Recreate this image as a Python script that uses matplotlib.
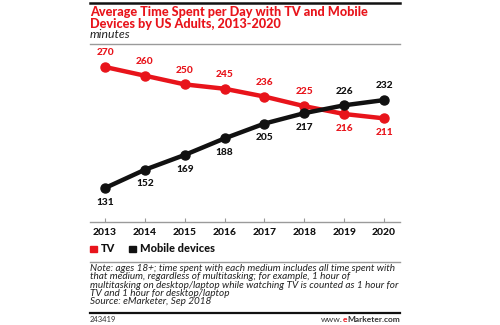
import matplotlib
matplotlib.use("Agg")
import matplotlib.pyplot as plt
from matplotlib.patches import Rectangle
from matplotlib.lines import Line2D

years = [2013, 2014, 2015, 2016, 2017, 2018, 2019, 2020]
tv = [270, 260, 250, 245, 236, 225, 216, 211]
mobile = [131, 152, 169, 188, 205, 217, 226, 232]
# label placement: +1 above the point, -1 below
tv_pos = [1, 1, 1, 1, 1, 1, -1, -1]
mobile_pos = [-1, -1, -1, -1, -1, -1, 1, 1]

title_lines = ["Average Time Spent per Day with TV and Mobile",
               "Devices by US Adults, 2013-2020"]
subtitle = "minutes"
note_lines = [
    "Note: ages 18+; time spent with each medium includes all time spent with",
    "that medium, regardless of multitasking; for example, 1 hour of",
    "multitasking on desktop/laptop while watching TV is counted as 1 hour for",
    "TV and 1 hour for desktop/laptop",
    "Source: eMarketer, Sep 2018",
]
chart_id = "243419"

RED = "#e8141b"
BLACK = "#111111"
GRAY = "#9a9a9a"
FONT = "Lato"

W, H = 500, 325
fig = plt.figure(figsize=(W / 100, H / 100), dpi=100)
fig.patch.set_facecolor("white")


def fx(px):
    return px / W


def fy(py):
    return 1 - py / H


L, R = 90, 400

# header rules and titles
fig.add_artist(Line2D([fx(L), fx(R)], [fy(2.5), fy(2.5)], color=BLACK, lw=1.8))
fig.text(fx(L), fy(15.5), title_lines[0], color=RED, fontsize=9.1,
         fontweight="black", family=FONT, va="baseline")
fig.text(fx(L), fy(27.5), title_lines[1], color=RED, fontsize=9.1,
         fontweight="black", family=FONT, va="baseline")
fig.text(fx(L), fy(38.5), subtitle, color="#222222", fontsize=8.8,
         style="italic", family=FONT, va="baseline")
fig.add_artist(Line2D([fx(L), fx(R)], [fy(43.5), fy(43.5)], color=GRAY, lw=1.0))

# main chart
ax_top, ax_bot = 50, 222
ax = fig.add_axes([fx(L), fy(ax_bot), fx(R - L), (ax_bot - ax_top) / H])
ax.set_facecolor("none")
ax.plot(years, tv, color=RED, lw=3.2, marker="o", ms=6.5, zorder=3,
        solid_capstyle="round")
ax.plot(years, mobile, color=BLACK, lw=3.2, marker="o", ms=6.5, zorder=4,
        solid_capstyle="round")

for x, v, p in zip(years, tv, tv_pos):
    ax.annotate(str(v), (x, v), xytext=(0, 7 * p), textcoords="offset points",
                ha="center", va="bottom" if p > 0 else "top", color=RED,
                fontsize=7.3, fontweight="black", family=FONT)
for x, v, p in zip(years, mobile, mobile_pos):
    ax.annotate(str(v), (x, v), xytext=(0, 7 * p), textcoords="offset points",
                ha="center", va="bottom" if p > 0 else "top", color=BLACK,
                fontsize=7.3, fontweight="black", family=FONT)

ax.set_xlim(2013 - 0.376, 2020 + 0.4)
ax.set_ylim(92, 289.5)
ax.set_xticks(years)
ax.set_xticklabels([str(y) for y in years], fontsize=7.4, fontweight="black",
                   family=FONT, color=BLACK)
ax.tick_params(axis="x", direction="in", length=3, width=0.8, color=GRAY, pad=4)
ax.set_yticks([])
for s in ["top", "right", "left"]:
    ax.spines[s].set_visible(False)
ax.spines["bottom"].set_color(GRAY)
ax.spines["bottom"].set_linewidth(1.0)

# legend
fig.add_artist(Rectangle((fx(90), fy(252)), fx(6.5), 6.5 / H, color=RED,
                         transform=fig.transFigure))
fig.text(fx(101), fy(249), "TV", color=BLACK, fontsize=7.9,
         fontweight="black", family=FONT, va="center")
fig.add_artist(Rectangle((fx(129), fy(252)), fx(6.5), 6.5 / H, color=BLACK,
                         transform=fig.transFigure))
fig.text(fx(140), fy(249), "Mobile devices", color=BLACK, fontsize=7.9,
         fontweight="black", family=FONT, va="center")

# notes
fig.add_artist(Line2D([fx(L), fx(R)], [fy(262), fy(262)], color=GRAY, lw=1.0))
for i, line in enumerate(note_lines):
    fig.text(fx(L), fy(271 + i * 8.3), line, color="#222222", fontsize=7.2,
             style="italic", family=FONT, va="baseline")

# footer
fig.add_artist(Line2D([fx(L), fx(R)], [fy(313), fy(313)], color=BLACK, lw=1.6))
fig.text(fx(L), fy(322), chart_id, color="#333333", fontsize=5.5,
         family=FONT, va="baseline")
# right-aligned site name with the bold red "e"
site = fig.text(fx(R), fy(322), "Marketer.com", color="#333333", fontsize=6,
                family=FONT, va="baseline", ha="right", fontweight="bold")
fig.canvas.draw()
bb = site.get_window_extent()
e_txt = fig.text(bb.x0 / W, fy(322), "e", color=RED, fontsize=6, family=FONT,
                 va="baseline", ha="right", fontweight="bold")
fig.canvas.draw()
bb2 = e_txt.get_window_extent()
fig.text(bb2.x0 / W, fy(322), "www.", color="#333333", fontsize=6,
         family=FONT, va="baseline", ha="right")

fig.savefig("out.png", dpi=100, facecolor="white")
